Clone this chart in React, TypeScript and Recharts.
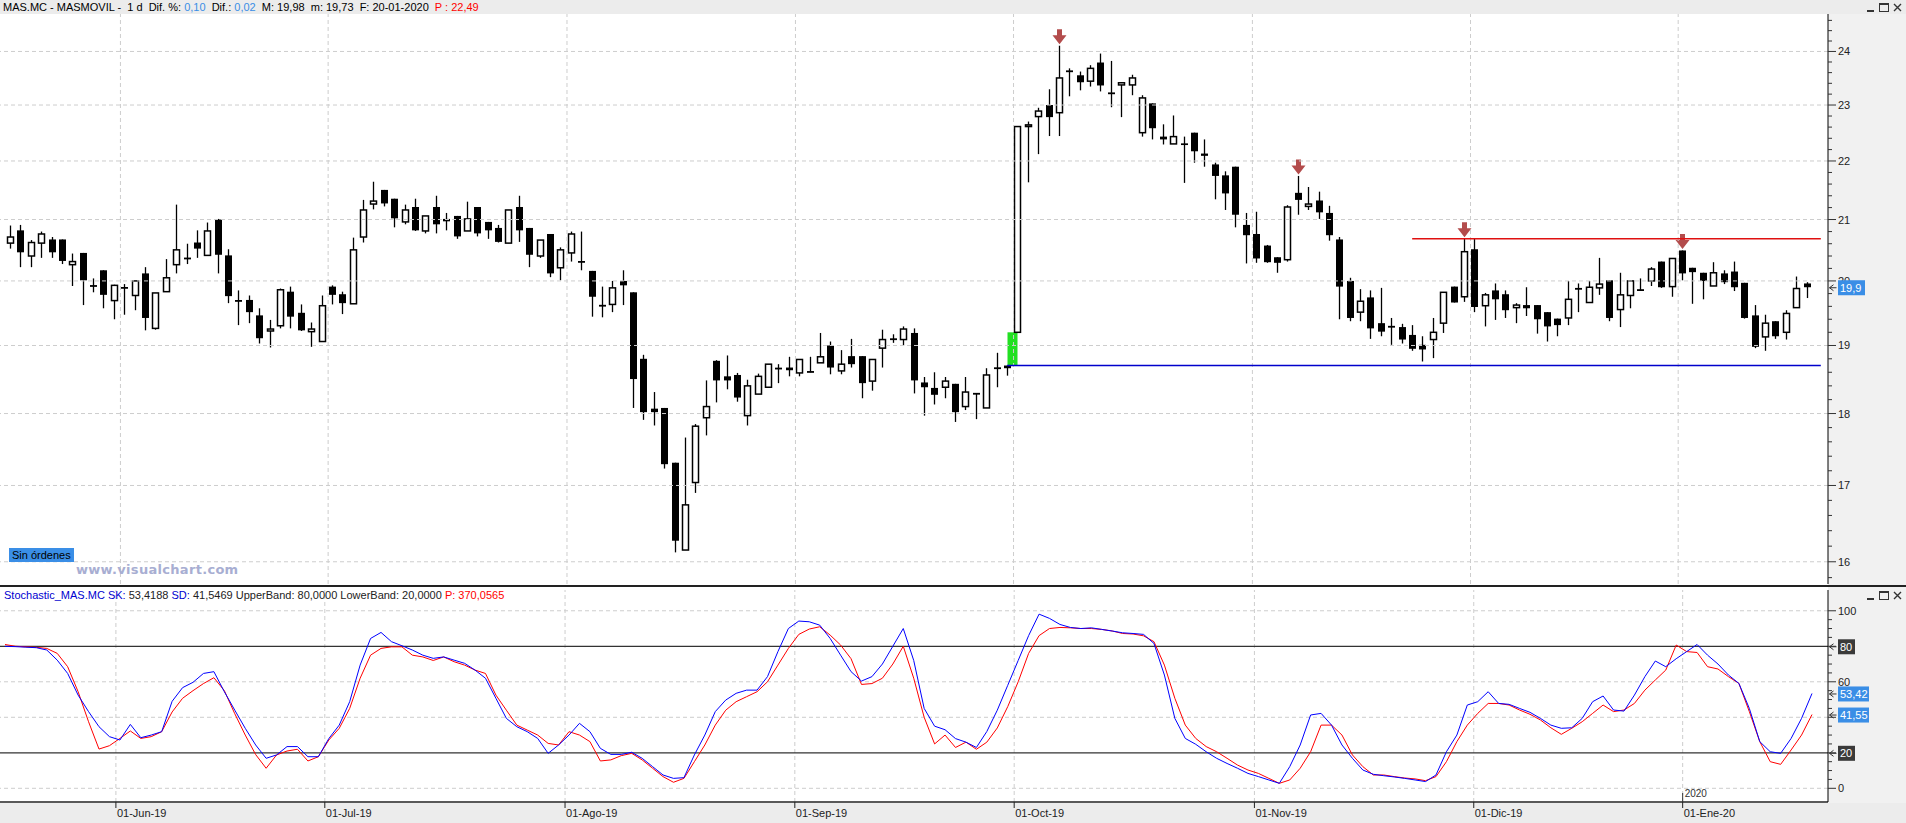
import React from 'react';
import {
  Bar,
  ComposedChart,
  Line,
  LineChart,
  ReferenceLine,
  XAxis,
  YAxis,
} from 'recharts';

const FONT = '"Liberation Sans", Arial, sans-serif';
const W = 1906;
const AXIS_X = 1828;
const GRID_SHIFT = -4; // month lines sit just before the first bar of the month

// trading days, 17-05-2019 .. 20-01-2020
const DATES = [
  '17-05-19', '20-05-19', '21-05-19', '22-05-19', '23-05-19', '24-05-19', '27-05-19', '28-05-19', '29-05-19', '30-05-19', '31-05-19',
  '03-06-19', '04-06-19', '05-06-19', '06-06-19', '07-06-19', '10-06-19', '11-06-19', '12-06-19', '13-06-19', '14-06-19',
  '17-06-19', '18-06-19', '19-06-19', '20-06-19', '21-06-19', '24-06-19', '25-06-19', '26-06-19', '27-06-19', '28-06-19',
  '01-07-19', '02-07-19', '03-07-19', '04-07-19', '05-07-19', '08-07-19', '09-07-19', '10-07-19', '11-07-19', '12-07-19',
  '15-07-19', '16-07-19', '17-07-19', '18-07-19', '19-07-19', '22-07-19', '23-07-19', '24-07-19', '25-07-19', '26-07-19',
  '29-07-19', '30-07-19', '31-07-19',
  '01-08-19', '02-08-19', '05-08-19', '06-08-19', '07-08-19', '08-08-19', '09-08-19', '12-08-19', '13-08-19', '14-08-19',
  '15-08-19', '16-08-19', '19-08-19', '20-08-19', '21-08-19', '22-08-19', '23-08-19', '26-08-19', '27-08-19', '28-08-19',
  '29-08-19', '30-08-19',
  '02-09-19', '03-09-19', '04-09-19', '05-09-19', '06-09-19', '09-09-19', '10-09-19', '11-09-19', '12-09-19', '13-09-19',
  '16-09-19', '17-09-19', '18-09-19', '19-09-19', '20-09-19', '23-09-19', '24-09-19', '25-09-19', '26-09-19', '27-09-19',
  '30-09-19',
  '01-10-19', '02-10-19', '03-10-19', '04-10-19', '07-10-19', '08-10-19', '09-10-19', '10-10-19', '11-10-19', '14-10-19',
  '15-10-19', '16-10-19', '17-10-19', '18-10-19', '21-10-19', '22-10-19', '23-10-19', '24-10-19', '25-10-19', '28-10-19',
  '29-10-19', '30-10-19', '31-10-19',
  '01-11-19', '04-11-19', '05-11-19', '06-11-19', '07-11-19', '08-11-19', '11-11-19', '12-11-19', '13-11-19', '14-11-19',
  '15-11-19', '18-11-19', '19-11-19', '20-11-19', '21-11-19', '22-11-19', '25-11-19', '26-11-19', '27-11-19', '28-11-19',
  '29-11-19',
  '02-12-19', '03-12-19', '04-12-19', '05-12-19', '06-12-19', '09-12-19', '10-12-19', '11-12-19', '12-12-19', '13-12-19',
  '16-12-19', '17-12-19', '18-12-19', '19-12-19', '20-12-19', '23-12-19', '24-12-19', '27-12-19', '30-12-19', '31-12-19',
  '02-01-20', '03-01-20', '06-01-20', '07-01-20', '08-01-20', '09-01-20', '10-01-20', '13-01-20', '14-01-20', '15-01-20',
  '16-01-20', '17-01-20', '20-01-20',
];

const OPEN = [
  20.61, 20.82, 20.40, 20.61, 20.67, 20.67, 20.26, 20.45, 19.93, 20.17,
  19.69, 19.90, 19.77, 20.12, 19.26, 19.83, 20.26, 20.35, 20.62, 20.41,
  21.00, 20.41, 19.69, 19.70, 19.46, 19.22, 19.30, 19.83, 19.50, 19.21,
  19.06, 19.91, 19.79, 19.64, 20.71, 21.26, 21.50, 21.35, 20.96, 21.21,
  20.81, 21.21, 21.01, 21.06, 20.81, 21.21, 20.96, 20.86, 20.61, 21.21,
  20.86, 20.40, 20.76, 20.21, 20.45, 20.30, 20.16, 19.62, 19.63, 20.00,
  19.82, 18.80, 18.07, 18.08, 17.31, 16.15, 17.04, 17.94, 18.77, 18.54,
  18.56, 17.97, 18.28, 18.38, 18.65, 18.67, 18.59, 18.60, 18.74, 19.00,
  18.62, 18.84, 18.84, 18.47, 18.96, 19.09, 19.09, 19.19, 18.45, 18.37,
  18.38, 18.43, 18.10, 18.28, 18.08, 18.67, 18.70, 19.20, 22.61, 22.79,
  23.00, 22.86, 23.62, 23.55, 23.44, 23.79, 23.22, 23.37, 23.37, 22.50,
  23.03, 22.43, 22.30, 22.31, 22.50, 22.13, 21.94, 21.75, 21.90, 20.91,
  20.76, 20.57, 20.38, 20.34, 21.45, 21.22, 21.32, 21.11, 20.67, 20.00,
  19.51, 19.74, 19.34, 19.29, 19.28, 19.16, 19.01, 19.09, 19.34, 19.91,
  19.75, 20.51, 19.61, 19.85, 19.79, 19.58, 19.62, 19.62, 19.51, 19.41,
  19.42, 19.88, 19.66, 19.89, 20.01, 19.55, 19.77, 19.86, 20.00, 20.31,
  19.91, 20.49, 20.21, 20.13, 19.92, 20.12, 20.15, 19.97, 19.46, 19.13,
  19.37, 19.20, 19.58, 19.96,
];

const HIGH = [
  20.90, 20.91, 20.66, 20.80, 20.71, 20.67, 20.44, 20.45, 20.04, 20.17,
  19.94, 19.95, 20.00, 20.22, 19.81, 20.35, 21.25, 20.60, 20.82, 20.95,
  21.01, 20.51, 19.85, 19.77, 19.57, 19.39, 19.88, 19.91, 19.63, 19.35,
  19.77, 19.93, 19.83, 20.70, 21.33, 21.64, 21.50, 21.35, 21.25, 21.35,
  21.06, 21.40, 21.11, 21.06, 21.30, 21.21, 20.96, 20.91, 21.16, 21.40,
  20.86, 20.66, 20.76, 20.54, 20.80, 20.80, 20.16, 19.91, 20.00, 20.17,
  19.82, 18.86, 18.31, 18.08, 17.31, 17.66, 17.85, 18.48, 18.78, 18.85,
  18.59, 18.49, 18.58, 18.72, 18.72, 18.83, 18.79, 18.83, 19.19, 19.06,
  18.93, 19.10, 18.84, 18.79, 19.24, 19.17, 19.29, 19.26, 18.53, 18.60,
  18.53, 18.43, 18.53, 18.29, 18.66, 18.89, 18.70, 22.61, 22.70, 22.95,
  23.29, 24.11, 23.68, 23.62, 23.74, 23.96, 23.82, 23.42, 23.56, 23.18,
  23.03, 22.65, 22.81, 22.43, 22.50, 22.38, 21.97, 21.82, 21.90, 21.11,
  21.13, 20.58, 20.38, 21.24, 21.74, 21.55, 21.47, 21.23, 20.71, 20.05,
  19.87, 19.85, 19.89, 19.42, 19.33, 19.31, 19.14, 19.42, 19.82, 19.91,
  20.68, 20.68, 19.81, 19.96, 19.85, 19.65, 19.90, 19.62, 19.51, 19.41,
  20.00, 19.96, 20.00, 20.37, 20.01, 20.13, 20.01, 20.04, 20.22, 20.31,
  20.36, 20.49, 20.21, 20.13, 20.30, 20.17, 20.31, 19.97, 19.62, 19.47,
  19.37, 19.54, 20.07, 19.98,
];

const LOW = [
  20.52, 20.22, 20.22, 20.37, 20.37, 20.27, 19.92, 19.62, 19.82, 19.57,
  19.40, 19.47, 19.54, 19.23, 19.24, 19.83, 20.12, 20.27, 20.37, 20.40,
  20.12, 19.65, 19.31, 19.34, 19.03, 18.97, 19.26, 19.26, 19.22, 18.98,
  19.06, 19.63, 19.48, 19.64, 20.62, 21.17, 21.22, 20.87, 20.92, 20.81,
  20.77, 20.77, 20.82, 20.68, 20.81, 20.72, 20.68, 20.62, 20.61, 20.63,
  20.22, 20.37, 20.06, 20.01, 20.31, 20.17, 19.44, 19.43, 19.51, 19.62,
  18.08, 17.91, 17.83, 17.23, 16.12, 16.15, 16.90, 17.69, 18.16, 18.35,
  18.17, 17.83, 18.28, 18.38, 18.44, 18.54, 18.54, 18.60, 18.74, 18.57,
  18.57, 18.67, 18.22, 18.33, 18.67, 19.04, 19.00, 18.29, 17.97, 18.13,
  18.22, 17.88, 18.05, 17.92, 18.08, 18.38, 18.55, 19.20, 21.63, 22.12,
  22.44, 22.44, 23.16, 23.27, 23.34, 23.25, 22.96, 22.78, 23.18, 22.43,
  22.38, 22.29, 22.30, 21.62, 21.97, 21.90, 21.34, 21.16, 20.87, 20.28,
  20.29, 20.29, 20.13, 20.31, 21.08, 21.16, 21.01, 20.65, 19.40, 19.37,
  19.37, 19.10, 19.14, 19.01, 19.03, 18.92, 18.76, 18.81, 19.19, 19.66,
  19.67, 19.51, 19.29, 19.39, 19.42, 19.34, 19.45, 19.18, 19.06, 19.14,
  19.31, 19.51, 19.66, 19.78, 19.37, 19.28, 19.57, 19.85, 19.92, 19.89,
  19.75, 20.01, 19.64, 19.71, 19.92, 19.95, 19.84, 19.41, 18.96, 18.92,
  19.10, 19.09, 19.58, 19.73,
];

const CLOSE = [
  20.71, 20.46, 20.62, 20.76, 20.46, 20.32, 20.31, 20.01, 19.91, 19.78,
  19.93, 19.88, 20.00, 19.42, 19.81, 20.05, 20.50, 20.37, 20.52, 20.81,
  20.42, 19.76, 19.68, 19.51, 19.11, 19.25, 19.86, 19.44, 19.23, 19.25,
  19.61, 19.78, 19.65, 20.50, 21.16, 21.31, 21.27, 21.02, 21.16, 20.82,
  21.06, 20.92, 20.97, 20.72, 21.01, 20.77, 20.82, 20.63, 21.16, 20.82,
  20.42, 20.66, 20.12, 20.50, 20.76, 20.31, 19.75, 19.60, 19.89, 19.93,
  18.50, 18.02, 18.02, 17.29, 16.27, 16.74, 17.82, 18.10, 18.48, 18.48,
  18.23, 18.40, 18.54, 18.72, 18.66, 18.63, 18.79, 18.61, 18.83, 18.67,
  18.72, 18.72, 18.44, 18.79, 19.09, 19.10, 19.25, 18.48, 18.38, 18.27,
  18.47, 18.02, 18.31, 18.29, 18.56, 18.65, 18.66, 22.61, 22.64, 22.89,
  22.78, 23.50, 23.63, 23.42, 23.68, 23.36, 23.21, 23.41, 23.50, 23.13,
  22.58, 22.38, 22.43, 22.28, 22.17, 22.09, 21.74, 21.44, 21.08, 20.74,
  20.36, 20.30, 20.29, 21.21, 21.33, 21.26, 21.12, 20.74, 19.91, 19.42,
  19.68, 19.26, 19.21, 19.28, 19.09, 18.95, 18.94, 19.20, 19.82, 19.66,
  20.47, 19.59, 19.78, 19.71, 19.54, 19.62, 19.57, 19.40, 19.29, 19.31,
  19.71, 19.87, 19.90, 19.95, 19.42, 19.78, 20.00, 19.85, 20.19, 19.90,
  20.36, 20.12, 20.14, 20.00, 20.13, 19.98, 19.90, 19.42, 18.98, 19.34,
  19.14, 19.49, 19.88, 19.90,
];

// Stochastic: SK (blue) and SD (red)
const SK = [
  80.0, 79.8, 79.5, 79.2, 77.9, 72.2, 64.7, 52.5, 43.2, 34.7,
  29.1, 27.2, 36.0, 28.5, 30.0, 31.9, 49.0, 56.7, 59.7, 64.7,
  65.7, 54.4, 44.0, 33.8, 24.4, 16.9, 18.8, 23.5, 23.5, 17.8,
  17.8, 28.0, 35.6, 48.8, 69.4, 84.4, 87.8, 82.6, 80.3, 77.9,
  75.0, 73.2, 74.0, 72.2, 70.4, 66.6, 62.0, 50.7, 39.4, 34.7,
  31.9, 28.1, 19.7, 24.4, 30.0, 36.6, 31.9, 22.5, 19.1, 19.1,
  20.3, 16.9, 12.2, 7.5, 5.6, 6.0, 18.8, 30.0, 43.2, 49.7,
  53.5, 55.3, 55.3, 62.9, 77.0, 90.0, 94.2, 93.8, 91.9, 84.4,
  75.0, 65.7, 60.4, 62.9, 70.0, 80.0, 90.0, 72.0, 45.0, 35.0,
  33.0, 28.0, 26.0, 23.0, 32.0, 44.0, 58.0, 72.0, 86.0, 98.1,
  95.7, 92.3, 90.6, 90.0, 90.4, 89.5, 88.6, 87.6, 87.2, 86.7,
  81.6, 63.8, 39.4, 28.1, 24.8, 20.6, 16.9, 14.0, 11.3, 8.4,
  6.6, 4.7, 2.8, 12.2, 24.4, 41.3, 42.2, 35.6, 24.4, 16.9,
  10.3, 7.9, 7.1, 6.4, 5.6, 4.7, 3.8, 7.5, 20.6, 30.0,
  46.9, 48.8, 54.4, 47.8, 47.3, 45.0, 42.8, 39.4, 35.6, 33.8,
  34.1, 39.4, 48.8, 52.0, 44.1, 43.5, 52.5, 62.9, 71.7, 68.5,
  73.0, 77.0, 81.0, 75.0, 70.0, 63.8, 59.1, 45.0, 26.3, 20.6,
  19.7, 28.1, 39.4, 53.42,
];

const SD = [
  81.0, 80.0, 79.7, 79.4, 78.8, 76.0, 68.5, 54.4, 37.5, 22.1,
  24.0, 28.1, 32.3, 28.1, 29.1, 31.9, 43.0, 50.7, 55.0, 59.0,
  62.3, 55.0, 42.0, 30.0, 19.0, 11.3, 18.8, 21.0, 22.0, 15.4,
  17.8, 27.2, 33.8, 45.0, 62.0, 75.0, 78.8, 79.7, 79.7, 75.0,
  74.0, 72.0, 74.0, 71.3, 69.4, 66.6, 64.7, 52.5, 44.0, 35.6,
  32.8, 30.0, 25.3, 24.4, 31.9, 30.0, 26.3, 15.4, 16.0, 18.4,
  19.7, 16.0, 11.3, 6.6, 3.4, 5.6, 15.0, 24.4, 35.6, 44.0,
  48.8, 51.6, 54.4, 60.0, 69.4, 78.8, 86.7, 89.7, 91.0, 86.3,
  80.7, 73.0, 58.5, 59.0, 62.0, 70.0, 80.0, 62.0, 40.0, 25.0,
  30.0, 23.0, 26.0, 22.0, 26.0, 34.0, 46.0, 60.0, 76.0, 86.0,
  90.0, 90.6, 90.4, 90.0, 90.0, 89.5, 88.6, 87.2, 86.9, 85.9,
  82.6, 69.4, 50.7, 35.6, 28.1, 23.5, 20.6, 16.9, 13.1, 10.3,
  8.4, 5.6, 2.8, 4.7, 11.3, 20.6, 35.6, 35.6, 30.0, 18.8,
  12.2, 7.5, 7.5, 6.6, 5.8, 5.3, 4.3, 6.6, 15.0, 26.3,
  35.6, 42.2, 47.8, 47.8, 46.9, 44.1, 41.7, 38.5, 34.1, 30.4,
  33.8, 37.5, 42.2, 46.9, 43.2, 44.1, 47.8, 55.3, 61.0, 66.6,
  80.7, 77.0, 76.5, 68.5, 67.2, 62.9, 59.1, 43.2, 26.3, 15.0,
  13.5, 21.6, 30.0, 41.55,
];

const MONTH_TICKS = ['03-06-19', '01-07-19', '01-08-19', '02-09-19', '01-10-19', '01-11-19', '02-12-19', '02-01-20'];
const MONTH_LABELS = ['01-Jun-19', '01-Jul-19', '01-Ago-19', '01-Sep-19', '01-Oct-19', '01-Nov-19', '01-Dic-19', '01-Ene-20'];
const YEAR_TICK = '02-01-20';

const SIGNAL_DAYS = ['07-10-19', '07-11-19', '29-11-19', '02-01-20'];
const GAP_DAY = '01-10-19';
const SUPPORT = 18.7;
const SUPPORT_FROM = '30-09-19';
const RESISTANCE = 20.68;
const RESISTANCE_FROM = '22-11-19';
const LAST_CLOSE = 19.9;

const PRICE_GRID = [16, 17, 18, 19, 20, 21, 22, 23, 24];
const STOCH_DASHED = [0, 40, 60, 100];
const STOCH_BANDS = [20, 80];

const BLUE_BOX = '#3a8ee6';
const DARK_BOX = '#3a3a3a';

const candleRows = DATES.map((date, i) => ({
  date,
  open: OPEN[i],
  high: HIGH[i],
  low: LOW[i],
  close: CLOSE[i],
  range: [LOW[i], HIGH[i]],
  signal: SIGNAL_DAYS.includes(date),
  gapFrom: date === GAP_DAY ? HIGH[i - 1] : null,
}));

const stochRows = DATES.map((date, i) => ({ date, sk: SK[i], sd: SD[i] }));

const priceMinor: number[] = [];
for (let v = 158; v <= 246; v += 2) priceMinor.push(v / 10);
const PRICE_TICKS = [...priceMinor, LAST_CLOSE];

const stochMinor: number[] = [];
for (let v = 0; v <= 100; v += 5) stochMinor.push(v);
const STOCH_BOXES = [
  { v: 80, text: '80', color: DARK_BOX, w: 17 },
  { v: 20, text: '20', color: DARK_BOX, w: 17 },
  { v: SD[SD.length - 1], text: '41,55', color: BLUE_BOX, w: 31 },
  { v: SK[SK.length - 1], text: '53,42', color: BLUE_BOX, w: 31 },
];
const STOCH_TICKS = [...stochMinor, ...STOCH_BOXES.map((b) => b.v)];

const fmt = (v: number, d: number) => v.toFixed(d).replace('.', ',');

function ValueBox({ x, y, text, color, w }: any) {
  return (
    <g>
      <path
        d={`M${x + 1.5},${y + 0.5} l4,-3 M${x + 1.5},${y + 0.5} l4,3 M${x + 1.5},${y + 0.5} h7`}
        stroke="#333"
        fill="none"
      />
      <rect x={x + 10} y={y - 7} width={w} height={15} fill={color} />
      <text x={x + 12} y={y + 4.5} fontSize={11} fill="#fff" fontFamily={FONT}>
        {text}
      </text>
    </g>
  );
}

function PriceTick(props: any) {
  const { x, y, payload, index } = props;
  const v = Number(payload.value);
  if (index === PRICE_TICKS.length - 1) {
    return <ValueBox x={x} y={y} text={fmt(v, 1)} color={BLUE_BOX} w={27} />;
  }
  const major = Math.abs(v - Math.round(v)) < 0.001;
  return (
    <g>
      <line x1={x} x2={x + (major ? 8 : 4)} y1={y} y2={y} stroke="#333" />
      {major && (
        <text x={x + 10} y={y + 4} fontSize={11} fill="#222" fontFamily={FONT}>
          {Math.round(v)}
        </text>
      )}
    </g>
  );
}

function StochTick(props: any) {
  const { x, y, payload, index } = props;
  const v = Number(payload.value);
  if (index >= stochMinor.length) {
    const b = STOCH_BOXES[index - stochMinor.length];
    return <ValueBox x={x} y={y} text={b.text} color={b.color} w={b.w} />;
  }
  const major = v % 20 === 0;
  return (
    <g>
      <line x1={x} x2={x + (major ? 8 : 4)} y1={y} y2={y} stroke="#333" />
      {major && (
        <text x={x + 10} y={y + 4} fontSize={11} fill="#222" fontFamily={FONT}>
          {v}
        </text>
      )}
    </g>
  );
}

function MonthTick(props: any) {
  const { y, payload } = props;
  const x = props.x + GRID_SHIFT;
  const label = MONTH_LABELS[MONTH_TICKS.indexOf(payload.value)];
  return (
    <g fontFamily={FONT}>
      <line x1={x} x2={x} y1={y} y2={y + 6} stroke="#222" />
      <text x={x + 1} y={y + 15} fontSize={11} fill="#222">
        {label}
      </text>
      {payload.value === YEAR_TICK && (
        <g>
          <line x1={x} x2={x} y1={y - 9} y2={y} stroke="#333" />
          <text x={x + 2} y={y - 5} fontSize={10} fill="#333">
            2020
          </text>
        </g>
      )}
    </g>
  );
}

function Candle(props: any) {
  const { x, y, width, height } = props;
  const d = props.payload ?? props;
  if (!(height > 0) || d == null) return null;
  const cx = Math.round(x + width / 2) + 0.5;
  const lh = Math.log(d.high);
  const ll = Math.log(d.low);
  const py = (v: number) => y + ((lh - Math.log(v)) / (lh - ll)) * height;
  const yo = py(d.open);
  const yc = py(d.close);
  const top = Math.min(yo, yc);
  const bot = Math.max(yo, yc);
  const up = d.close >= d.open;
  const out: React.ReactNode[] = [];
  if (d.gapFrom != null) {
    const gy = py(d.low);
    out.push(
      <rect key="gap" x={cx - width} y={gy} width={width} height={py(d.gapFrom) - gy} fill="#22e022" />
    );
  }
  out.push(<line key="w" x1={cx} x2={cx} y1={y} y2={y + height} stroke="#000" strokeWidth={1.3} />);
  if (bot - top < 1.6) {
    out.push(
      <line key="b" x1={cx - 3.5} x2={cx + 3.5} y1={(top + bot) / 2} y2={(top + bot) / 2} stroke="#000" strokeWidth={1.8} />
    );
  } else if (up) {
    out.push(
      <rect key="b" x={cx - 3} y={top} width={6} height={bot - top} fill="#fff" stroke="#000" strokeWidth={1.5} />
    );
  } else {
    out.push(<rect key="b" x={cx - 3.5} y={top} width={7} height={bot - top} fill="#000" />);
  }
  if (d.signal) {
    const ty = y - 1.5;
    out.push(
      <path
        key="s"
        d={`M${cx - 2.5},${ty - 15} L${cx + 2.5},${ty - 15} L${cx + 2.5},${ty - 9} L${cx + 7},${ty - 9} L${cx},${ty} L${cx - 7},${ty - 9} L${cx - 2.5},${ty - 9} Z`}
        fill="#b34c4c"
      />
    );
  }
  return <g>{out}</g>;
}

const extendedLine = (p: any) => (
  <line x1={p.x1} y1={p.y1} x2={p.x2 + 14} y2={p.y2} stroke={p.stroke} strokeWidth={p.strokeWidth} />
);

const shiftedGridLine = (p: any) => (
  <line
    x1={p.x1 + GRID_SHIFT}
    y1={p.y1}
    x2={p.x2 + GRID_SHIFT}
    y2={p.y2}
    stroke="#cdcdcd"
    strokeDasharray="4 3"
  />
);

const grid = { stroke: '#cdcdcd', strokeDasharray: '4 3' };

function WindowButtons({ y }: { y: number }) {
  return (
    <div style={{ position: 'absolute', left: 1866, top: y, width: 38, height: 12 }}>
      <div style={{ position: 'absolute', left: 1, top: 9, width: 7, height: 1.5, background: '#333' }} />
      <div style={{ position: 'absolute', left: 13, top: 2, width: 8, height: 6, border: '1px solid #333', borderTopWidth: 2 }} />
      <svg style={{ position: 'absolute', left: 27, top: 2 }} width={9} height={9}>
        <path d="M1,1 L8,8 M8,1 L1,8" stroke="#333" strokeWidth={1.4} />
      </svg>
    </div>
  );
}

const lineStyle = {
  position: 'absolute' as const,
  left: 3,
  fontSize: 11,
  lineHeight: '14px',
  whiteSpace: 'pre' as const,
};

export default function App() {
  const last = DATES[DATES.length - 1];
  return (
    <div
      style={{
        position: 'absolute',
        left: 0,
        top: 0,
        width: W,
        height: 823,
        background: '#fff',
        overflow: 'hidden',
        fontFamily: FONT,
      }}
    >
      <div style={{ position: 'absolute', left: 0, top: 0, width: W, height: 14, background: '#ececec' }} />
      <div style={{ position: 'absolute', left: AXIS_X, top: 14, width: W - AXIS_X, height: 789, background: '#f1f1f1' }} />
      <div style={{ position: 'absolute', left: 0, top: 803, width: W, height: 20, background: '#ececec' }} />

      <div style={{ position: 'absolute', left: 0, top: 14 }}>
        <ComposedChart width={W} height={570} data={candleRows} margin={{ top: 0, right: 0, bottom: 0, left: 0 }} barCategoryGap={0}>
          <XAxis dataKey="date" hide padding={{ left: 5, right: 16 }} />
          <YAxis
            orientation="right"
            width={W - AXIS_X}
            type="number"
            scale="log"
            domain={[15.72, 24.725]}
            allowDataOverflow
            ticks={PRICE_TICKS}
            interval={0}
            tickSize={0}
            tickMargin={0}
            tickLine={false}
            axisLine={{ stroke: '#000' }}
            tick={<PriceTick />}
          />
          {PRICE_GRID.map((v) => (
            <ReferenceLine key={`h${v}`} y={v} {...grid} />
          ))}
          {MONTH_TICKS.map((d) => (
            <ReferenceLine key={`v${d}`} x={d} {...grid} shape={shiftedGridLine} />
          ))}
          <Bar dataKey="range" isAnimationActive={false} shape={(p: any) => <Candle {...p} />} />
          <ReferenceLine
            segment={[{ x: SUPPORT_FROM, y: SUPPORT }, { x: last, y: SUPPORT }]}
            stroke="#0000cc"
            strokeWidth={1.5}
            shape={extendedLine}
          />
          <ReferenceLine
            segment={[{ x: RESISTANCE_FROM, y: RESISTANCE }, { x: last, y: RESISTANCE }]}
            stroke="#e01010"
            strokeWidth={1.5}
            shape={extendedLine}
          />
        </ComposedChart>
      </div>

      <div style={{ position: 'absolute', left: 0, top: 583 }}>
        <LineChart width={W} height={240} data={stochRows} margin={{ top: 7, right: 0, bottom: 0, left: 0 }}>
          <XAxis
            dataKey="date"
            height={21}
            padding={{ left: 5, right: 16 }}
            ticks={MONTH_TICKS}
            interval={0}
            tickSize={0}
            tickMargin={0}
            tickLine={false}
            axisLine={{ stroke: '#222', strokeWidth: 1.5 }}
            tick={<MonthTick />}
          />
          <YAxis
            orientation="right"
            width={W - AXIS_X}
            type="number"
            domain={[-7.71, 111.7]}
            allowDataOverflow
            ticks={STOCH_TICKS}
            interval={0}
            tickSize={0}
            tickMargin={0}
            tickLine={false}
            axisLine={{ stroke: '#000' }}
            tick={<StochTick />}
          />
          {STOCH_DASHED.map((v) => (
            <ReferenceLine key={`h${v}`} y={v} {...grid} />
          ))}
          {MONTH_TICKS.map((d) => (
            <ReferenceLine key={`v${d}`} x={d} {...grid} shape={shiftedGridLine} />
          ))}
          {STOCH_BANDS.map((v) => (
            <ReferenceLine key={`b${v}`} y={v} stroke="#333" strokeWidth={1.2} />
          ))}
          <Line type="linear" dataKey="sd" stroke="#ff0000" strokeWidth={1} dot={false} isAnimationActive={false} />
          <Line type="linear" dataKey="sk" stroke="#0000ff" strokeWidth={1} dot={false} isAnimationActive={false} />
        </LineChart>
      </div>

      <div style={{ position: 'absolute', left: 0, top: 585, width: W, height: 2, background: '#222' }} />

      <div style={{ ...lineStyle, top: 0, color: '#000' }}>
        {'MAS.MC - MASMOVIL -  1 d  Dif. %: '}
        <span style={{ color: '#3a8ee6' }}>0,10</span>
        {'  Dif.: '}
        <span style={{ color: '#3a8ee6' }}>0,02</span>
        {'  M: 19,98  m: 19,73  F: 20-01-2020  '}
        <span style={{ color: '#f00' }}>P : 22,49</span>
      </div>
      <div style={{ ...lineStyle, left: 4, top: 588, color: '#222' }}>
        <span style={{ color: '#0000d0' }}>Stochastic_MAS.MC SK:</span>
        {' 53,4188 '}
        <span style={{ color: '#0000d0' }}>SD:</span>
        {' 41,5469 UpperBand: 80,0000 LowerBand: 20,0000 '}
        <span style={{ color: '#f00' }}>P: 370,0565</span>
      </div>
      <WindowButtons y={1} />
      <WindowButtons y={589} />

      <div
        style={{
          position: 'absolute',
          left: 9,
          top: 548,
          height: 14,
          padding: '0 3px',
          background: '#3a8ee6',
          color: '#000',
          fontSize: 11,
          lineHeight: '14px',
        }}
      >
        Sin órdenes
      </div>
      <div
        style={{
          position: 'absolute',
          left: 76,
          top: 562,
          color: '#a8aed2',
          fontFamily: '"DejaVu Sans", Verdana, sans-serif',
          fontWeight: 700,
          fontSize: 13,
          lineHeight: '16px',
          letterSpacing: 0.3,
        }}
      >
        www.visualchart.com
      </div>
    </div>
  );
}
